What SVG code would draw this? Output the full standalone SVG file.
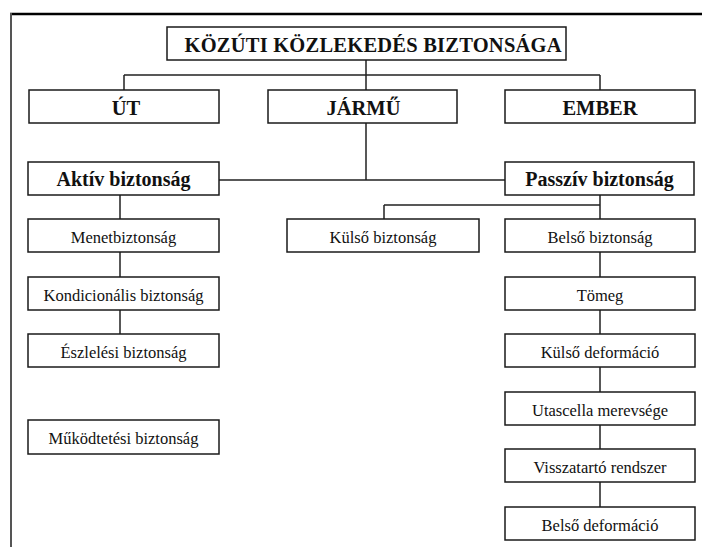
<svg xmlns="http://www.w3.org/2000/svg" width="702" height="547" viewBox="0 0 702 547">
<style>
.box{fill:#fff;stroke:#1a1a1a;stroke-width:1.5}
.b{font-family:'Liberation Serif','Times New Roman','DejaVu Serif',serif;font-weight:bold;font-size:20.5px;fill:#111;text-anchor:middle}
.n{font-family:'Liberation Serif','Times New Roman','DejaVu Serif',serif;font-size:16.5px;fill:#111;text-anchor:middle}
.c{fill:none;stroke:#222;stroke-width:1.5}
</style>
<rect x="0" y="0" width="702" height="547" fill="#fff"/>
<g id="frame">
<line x1="10" y1="14" x2="702" y2="14" stroke="#000" stroke-width="2.5"/>
<line x1="11" y1="13" x2="11" y2="547" stroke="#555" stroke-width="2"/>
</g>
<g id="connectors" class="c">
<path d="M366,60V75M124,75H600M124,75V90M366,75V90M600,75V90"/>
<path d="M366,123V180M219,180H505"/>
<path d="M120,195V219M120,252V277M120,310V334"/>
<path d="M600,195V219M384,205H600M384,205V219"/>
<path d="M600,252V277M600,310V334M600,367V392M600,425V449M600,482V507"/>
</g>
<g id="title"><rect class="box" x="167" y="27" width="399" height="33"/><text class="b" x="373" y="52" textLength="377">KÖZÚTI KÖZLEKEDÉS BIZTONSÁGA</text></g>
<g id="ut"><rect class="box" x="29" y="90" width="190" height="33"/><text class="b" x="126" y="115">ÚT</text></g>
<g id="jarmu"><rect class="box" x="268" y="90" width="189" height="33"/><text class="b" x="363.5" y="115">JÁRMŰ</text></g>
<g id="ember"><rect class="box" x="505" y="90" width="190" height="33"/><text class="b" x="600" y="115">EMBER</text></g>
<g id="aktiv"><rect class="box" x="28" y="162" width="191" height="33"/><text class="b" x="123.5" y="186" style="font-size:20px">Aktív biztonság</text></g>
<g id="passziv"><rect class="box" x="505" y="162" width="189" height="33"/><text class="b" x="599.5" y="186" style="font-size:20px">Passzív biztonság</text></g>
<g id="menet"><rect class="box" x="28" y="219" width="191" height="33"/><text class="n" x="123.5" y="242.5">Menetbiztonság</text></g>
<g id="kondicionalis"><rect class="box" x="28" y="277" width="191" height="33"/><text class="n" x="123.5" y="300.5">Kondicionális biztonság</text></g>
<g id="eszlelesi"><rect class="box" x="28" y="334" width="191" height="33"/><text class="n" x="123.5" y="357.5">Észlelési biztonság</text></g>
<g id="mukodtetesi"><rect class="box" x="28" y="420" width="191" height="34"/><text class="n" x="123.5" y="443.5">Működtetési biztonság</text></g>
<g id="kulso"><rect class="box" x="287" y="219" width="192" height="33"/><text class="n" x="383" y="242.5">Külső biztonság</text></g>
<g id="belso"><rect class="box" x="505" y="219" width="190" height="33"/><text class="n" x="600" y="242.5">Belső biztonság</text></g>
<g id="tomeg"><rect class="box" x="505" y="277" width="190" height="33"/><text class="n" x="600" y="300.5">Tömeg</text></g>
<g id="kulso-def"><rect class="box" x="505" y="334" width="190" height="33"/><text class="n" x="600" y="357.5">Külső deformáció</text></g>
<g id="utascella"><rect class="box" x="505" y="392" width="190" height="33"/><text class="n" x="600" y="415.5">Utascella merevsége</text></g>
<g id="visszatarto"><rect class="box" x="505" y="449" width="190" height="33"/><text class="n" x="600" y="472.5">Visszatartó rendszer</text></g>
<g id="belso-def"><rect class="box" x="505" y="507" width="190" height="33"/><text class="n" x="600" y="530.5">Belső deformáció</text></g>
</svg>
